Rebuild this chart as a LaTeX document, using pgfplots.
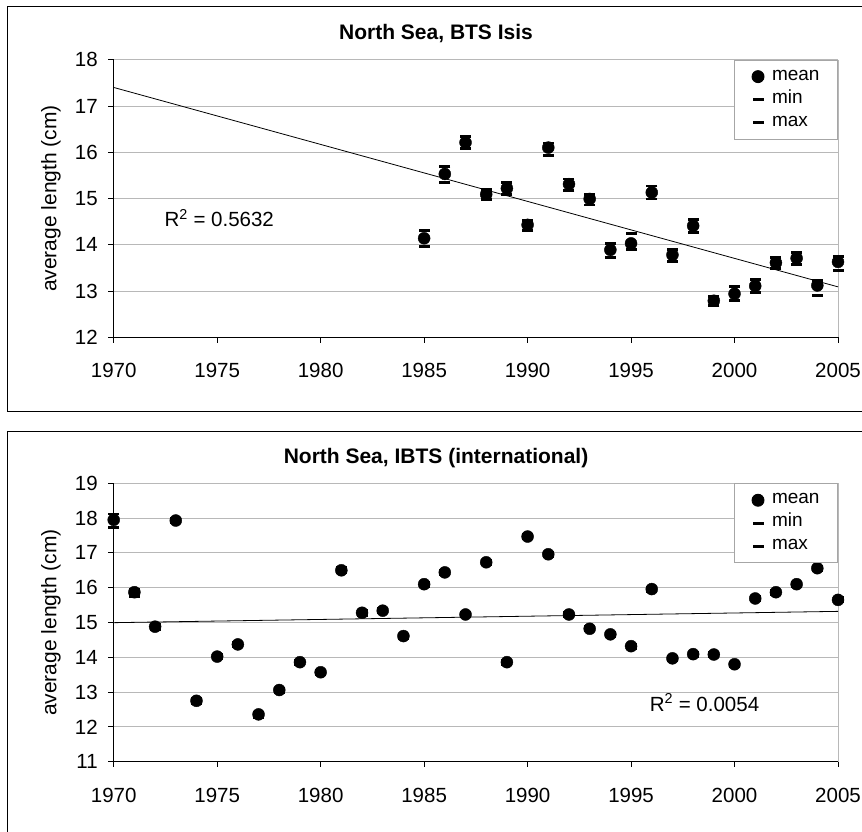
\documentclass[border=0pt]{standalone}
\usepackage{fontspec}
\setmainfont{Liberation Sans}
\usepackage{pgfplots}
\usepackage{pgfplotstable}
\pgfplotsset{compat=1.18}

% Beam trawl survey (BTS Isis): yearly mean, min and max length
\pgfplotstableread{
year mean  min   max
1985 14.14 13.96 14.31
1986 15.53 15.35 15.70
1987 16.21 16.08 16.34
1988 15.09 14.98 15.20
1989 15.22 15.08 15.34
1990 14.43 14.31 14.52
1991 16.10 15.93 16.20
1992 15.31 15.17 15.42
1993 14.99 14.86 15.09
1994 13.89 13.72 14.02
1995 14.03 13.90 14.24
1996 15.13 14.99 15.27
1997 13.78 13.64 13.89
1998 14.41 14.27 14.54
1999 12.79 12.69 12.88
2000 12.94 12.80 13.09
2001 13.11 12.97 13.25
2002 13.61 13.49 13.72
2003 13.71 13.57 13.84
2004 13.12 12.91 13.23
2005 13.63 13.45 13.75
}\btsdata

% International bottom trawl survey (IBTS)
\pgfplotstableread{
year mean  min   max
1970 17.95 17.72 18.12
1971 15.87 15.75 15.95
1972 14.88 14.80 14.95
1973 17.93 17.86 18.00
1974 12.75 12.68 12.82
1975 14.02 13.95 14.08
1976 14.37 14.30 14.43
1977 12.36 12.28 12.42
1978 13.06 12.99 13.12
1979 13.86 13.79 13.92
1980 13.57 13.50 13.63
1981 16.50 16.42 16.57
1982 15.28 15.21 15.34
1983 15.34 15.28 15.41
1984 14.61 14.55 14.67
1985 16.10 16.04 16.15
1986 16.44 16.38 16.50
1987 15.23 15.17 15.29
1988 16.73 16.67 16.79
1989 13.86 13.79 13.92
1990 17.47 17.40 17.52
1991 16.96 16.90 17.02
1992 15.23 15.17 15.29
1993 14.82 14.76 14.88
1994 14.66 14.60 14.72
1995 14.32 14.26 14.38
1996 15.96 15.90 16.02
1997 13.97 13.91 14.03
1998 14.09 14.03 14.15
1999 14.08 14.02 14.14
2000 13.80 13.74 13.86
2001 15.69 15.63 15.75
2002 15.87 15.81 15.93
2003 16.10 16.04 16.16
2004 16.56 16.49 16.61
2005 15.65 15.59 15.71
}\ibtsdata

\newcommand{\ticksize}{\fontsize{20.5}{24}\selectfont}
\newcommand{\labsize}{\fontsize{21}{25}\selectfont}

\pgfplotsset{
  lenaxis/.style={
    scale only axis,
    width=724.3pt,
    xmin=1970, xmax=2005,
    xtick={1970,1975,...,2005},
    axis x line*=bottom, axis y line*=left,
    x axis line style={-, black, line width=0.9pt},
    y axis line style={-, black, line width=0.9pt},
    tick align=outside,
    major tick length=5.3pt,
    tick style={black, line width=0.9pt},
    ymajorgrids,
    grid style={draw=black!28, line width=0.9pt},
    /pgf/number format/assume math mode=true,
    /pgf/number format/1000 sep={},
    tick label style={font=\ticksize},
    xticklabel style={inner sep=0pt, yshift=-20.5pt},
    yticklabel style={inner sep=0pt, xshift=-10.5pt},
    ylabel={average length (cm)},
    ylabel style={at={(axis description cs:-0.0866,0.5)}, anchor=center, font=\labsize},
    % the default title style lifts the title by 6pt; cancel that
    title style={anchor=center, yshift=-6pt, font=\bfseries\labsize},
    clip=false,
    legend style={at={(1,1)}, anchor=north east, draw=black!35, fill=white,
      line width=0.9pt, font=\fontsize{19}{23}\selectfont,
      nodes={inner sep=0pt, text height=13pt, text depth=6pt},
      inner xsep=18pt, inner ysep=7pt, row sep=4pt,
      /tikz/every odd column/.append style={column sep=8pt}},
    legend cell align=left,
    legend image code/.code={%
      \draw[mark repeat=2, mark phase=2, #1] plot coordinates {(0pt,0pt) (6pt,0pt) (12pt,0pt)};},
  },
  meanmark/.style={only marks, mark=*, mark size=6pt, black, mark options={fill=black}},
  dashmark/.style={only marks, mark=-, mark size=5.5pt, black, mark options={line width=2.8pt}},
}

\begin{document}
\begin{tikzpicture}[x=1pt, y=1pt]
\useasboundingbox (0,0) rectangle (862,832);
% chart frames
\draw[black, line width=1pt] (862,825) -- (7.3,825) -- (7.3,420) -- (862,420);
\draw[black, line width=1pt] (862,400) -- (7.3,400) -- (7.3,0);

% upper panel
\begin{axis}[lenaxis,
  at={(113.7pt,494.7pt)}, anchor=south west,
  height=277.6pt,
  ymin=12, ymax=18, ytick={12,13,...,18},
  title={North Sea, BTS Isis},
  title style={at={(0.445,1.094)}},
]
\draw[black!28, line width=0.9pt] (rel axis cs:1,0) -- (rel axis cs:1,1);
\addplot[black, line width=0.8pt, forget plot] coordinates {(1970,17.40) (2005,13.09)};
\addplot[meanmark] table[x=year, y=mean] {\btsdata};
\addplot[dashmark] table[x=year, y=min] {\btsdata};
\addplot[dashmark] table[x=year, y=max] {\btsdata};
\legend{mean, min, max}
\node[font=\ticksize] at (axis cs:1975.1,14.58) {R\textsuperscript{2} = 0.5632};
\end{axis}

% lower panel
\begin{axis}[lenaxis,
  at={(113.7pt,70.3pt)}, anchor=south west,
  height=278.4pt,
  ymin=11, ymax=19, ytick={11,12,...,19},
  title={North Sea, IBTS (international)},
  title style={at={(0.445,1.089)}},
]
\draw[black!28, line width=0.9pt] (rel axis cs:1,0) -- (rel axis cs:1,1);
\addplot[black, line width=0.8pt, forget plot] coordinates {(1970,14.995) (2005,15.32)};
\addplot[meanmark] table[x=year, y=mean] {\ibtsdata};
\addplot[dashmark] table[x=year, y=min] {\ibtsdata};
\addplot[dashmark] table[x=year, y=max] {\ibtsdata};
\legend{mean, min, max}
\node[font=\ticksize] at (axis cs:1998.55,12.70) {R\textsuperscript{2} = 0.0054};
\end{axis}
\end{tikzpicture}
\end{document}
